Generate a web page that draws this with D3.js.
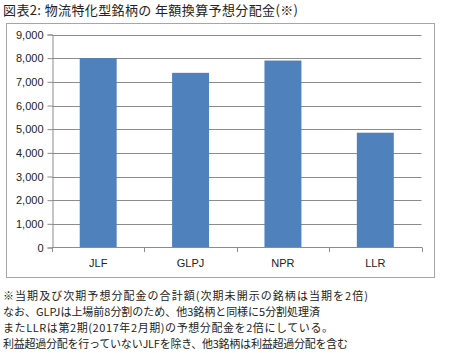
<!DOCTYPE html>
<html>
<head>
<meta charset="utf-8">
<script src="https://cdn.jsdelivr.net/npm/d3@7"></script>
<style>
  body { margin: 0; background: #fff; }
  svg { display: block; font-family: "Noto Sans CJK JP", sans-serif; }
</style>
</head>
<body>
<div id="chart"></div>
<script>
// data
var categories = ["JLF", "GLPJ", "NPR", "LLR"];
var values = [8000, 7380, 7900, 4850];
var yTicks = [0, 1000, 2000, 3000, 4000, 5000, 6000, 7000, 8000, 9000];
var title = "図表2: 物流特化型銘柄の 年額換算予想分配金(※)";
var notes = [
  "※当期及び次期予想分配金の合計額(次期未開示の銘柄は当期を2倍)",
  "なお、GLPJは上場前8分割のため、他3銘柄と同様に5分割処理済",
  "またLLRは第2期(2017年2月期)の予想分配金を2倍にしている。",
  "利益超過分配を行っていないJLFを除き、他3銘柄は利益超過分配を含む"
];
// approximate printed widths of the footnote lines in the original
var noteWidths = [365, 317, 330, 345];

var W = 450, H = 353;
var svg = d3.select("#chart").append("svg").attr("width", W).attr("height", H);

svg.append("text").attr("x", 3).attr("y", 15)
  .attr("textLength", 295).attr("lengthAdjust", "spacing")
  .style("font-size", "13px").style("fill", "#222").text(title);

// chart frame
svg.append("rect").attr("x", 6.5).attr("y", 23.5).attr("width", 428).attr("height", 254)
  .attr("fill", "#fff").attr("stroke", "#a6a6a6");

var x = d3.scaleBand().domain(categories).range([52, 421.5]).paddingInner(0.6).paddingOuter(0.3);
var y = d3.scaleLinear().domain([0, 9000]).range([247.5, 34.5]);

// gridlines
svg.append("g").selectAll("line").data(yTicks.slice(1)).enter().append("line")
  .attr("x1", 52).attr("x2", 421.5)
  .attr("y1", function (d) { return Math.round(y(d)) + 0.5; })
  .attr("y2", function (d) { return Math.round(y(d)) + 0.5; })
  .attr("stroke", "#8c8c8c");

// bars
svg.append("g").selectAll("rect").data(values).enter().append("rect")
  .attr("x", function (d, i) { return x(categories[i]); })
  .attr("y", function (d) { return y(d); })
  .attr("width", x.bandwidth())
  .attr("height", function (d) { return y(0) - y(d); })
  .attr("fill", "#4f81bd");

// y axis
var yAxis = svg.append("g").attr("transform", "translate(52.5,0)")
  .call(d3.axisLeft(y).tickValues(yTicks).tickSize(5).tickPadding(4).tickFormat(d3.format(",")));
yAxis.select(".domain").attr("stroke", "#8c8c8c");
yAxis.selectAll(".tick line").attr("stroke", "#8c8c8c");
yAxis.selectAll("text").style("font-size", "11px").style("fill", "#222")
  .style("font-family", "Arial, 'Liberation Sans', sans-serif");

// x axis with boundary ticks
var xg = svg.append("g");
xg.append("line").attr("x1", 52).attr("x2", 422).attr("y1", 247.5).attr("y2", 247.5).attr("stroke", "#8c8c8c");
xg.selectAll(".bt").data(d3.range(categories.length + 1)).enter().append("line")
  .attr("x1", function (i) { return Math.round(52 + i * (421.5 - 52) / categories.length) + 0.5; })
  .attr("x2", function (i) { return Math.round(52 + i * (421.5 - 52) / categories.length) + 0.5; })
  .attr("y1", 247.5).attr("y2", 252).attr("stroke", "#8c8c8c");
xg.selectAll("text").data(categories).enter().append("text")
  .attr("x", function (d) { return x(d) + x.bandwidth() / 2; })
  .attr("y", 267).attr("text-anchor", "middle")
  .style("font-size", "11px").style("fill", "#222")
  .style("font-family", "Arial, 'Liberation Sans', sans-serif")
  .text(function (d) { return d; });

// footnotes
svg.append("g").selectAll("text").data(notes).enter().append("text")
  .attr("x", 3).attr("y", function (d, i) { return 300 + i * 16; })
  .attr("textLength", function (d, i) { return noteWidths[i]; })
  .attr("lengthAdjust", "spacing")
  .style("font-size", "11px").style("fill", "#222")
  .text(function (d) { return d; });
</script>
</body>
</html>
